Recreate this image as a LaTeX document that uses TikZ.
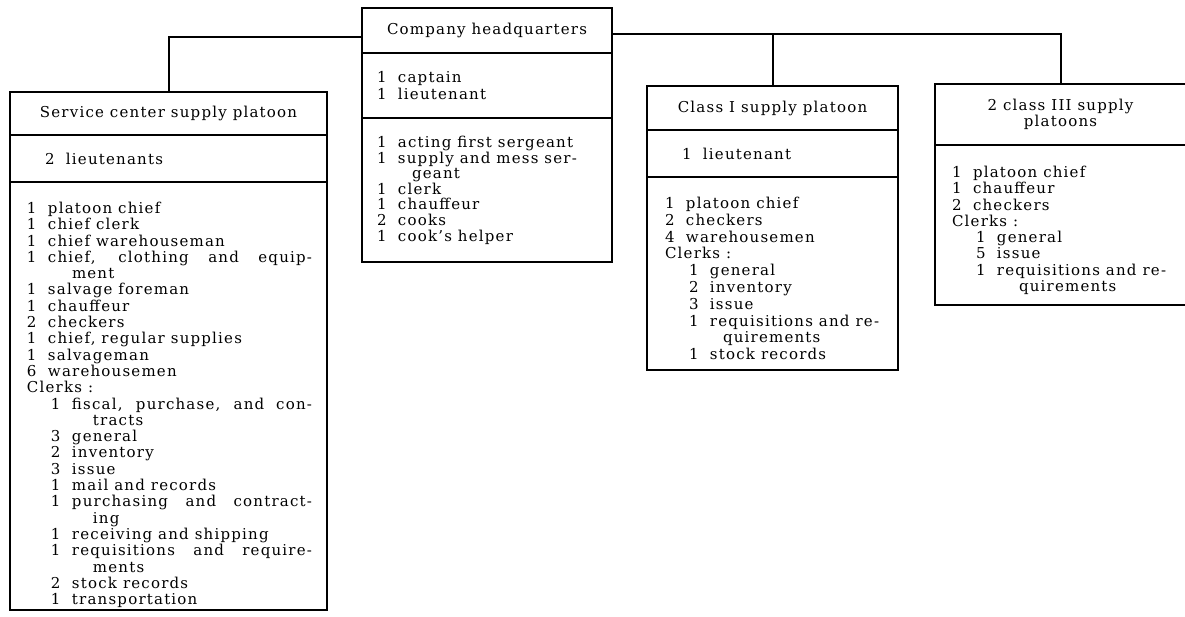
\documentclass[tikz,border=0pt]{standalone}
\usepackage{fontspec}
\setmainfont{DejaVu Serif}[LetterSpace=8]
\usetikzlibrary{positioning}
\tikzset{
	part/.style={draw, line width=2pt, outer sep=0, inner sep=0, anchor=north west},
	txt/.style={inner sep=0, outer sep=0, align=left},
	conn/.style={line width=2pt}
}
\newcommand{\nr}[1]{\makebox[21pt][l]{#1}}
\newcommand{\sbi}{\hspace*{24pt}}
\newcommand{\hng}[1][45pt]{\hspace*{#1}}
\newcommand{\jst}[2]{\makebox[#1][s]{#2}}
\begin{document}
\begin{tikzpicture}[x=1pt, y=-1pt, font=\fontsize{15}{16.3}\selectfont]
	\useasboundingbox (0,0) rectangle (1185,616);
	% service center supply platoon
	\node[part, minimum width=317, minimum height=43] (sc) at (10, 92) {Service center supply platoon};
	\node[part, minimum width=317, minimum height=47, below=0pt of sc] (sc_1) {};
	\node[part, minimum width=317, minimum height=428, below=0pt of sc_1] (sc_2) {};
	\node[txt, right=35pt of sc_1.west] (sc_1t) {\nr{2}lieutenants};
	\node[txt, below right=20pt and 17pt of sc_2.north west] (sc_2t) {
		\nr{1}platoon chief\\
		\nr{1}chief clerk\\
		\nr{1}chief warehouseman\\
		\nr{1}\jst{264pt}{chief, clothing and equip-}\\
		\hng ment\\
		\nr{1}salvage foreman\\
		\nr{1}chauffeur\\
		\nr{2}checkers\\
		\nr{1}chief, regular supplies\\
		\nr{1}salvageman\\
		\nr{6}warehousemen\\
		Clerks :\\
		\sbi\nr{1}\jst{240pt}{fiscal, purchase, and con-}\\
		\sbi\hng[42pt]tracts\\
		\sbi\nr{3}general\\
		\sbi\nr{2}inventory\\
		\sbi\nr{3}issue\\
		\sbi\nr{1}mail and records\\
		\sbi\nr{1}\jst{240pt}{purchasing and contract-}\\
		\sbi\hng[42pt]ing\\
		\sbi\nr{1}receiving and shipping\\
		\sbi\nr{1}\jst{240pt}{requisitions and require-}\\
		\sbi\hng[42pt]ments\\
		\sbi\nr{2}stock records\\
		\sbi\nr{1}transportation};
	% company headquarters
	\node[part, minimum width=250, minimum height=45] (hq) at (362, 8) {Company headquarters};
	\node[part, minimum width=250, minimum height=65, below=0pt of hq] (hq_1) {};
	\node[part, minimum width=250, minimum height=144, below=0pt of hq_1] (hq_2) {};
	\node[txt, right=15pt of hq_1.west] (hq_1t) {\nr{1}captain\\ \nr{1}lieutenant};
	\node[txt, below right=18pt and 15pt of hq_2.north west, font=\fontsize{15}{15.6}\selectfont] (hq_2t) {
		\nr{1}acting first sergeant\\
		\nr{1}supply and mess ser-\\
		\hng[35pt]geant\\
		\nr{1}clerk\\
		\nr{1}chauffeur\\
		\nr{2}cooks\\
		\nr{1}cook's helper};
	% class I
	\node[part, minimum width=251, minimum height=44] (c1) at (647, 86) {Class I supply platoon};
	\node[part, minimum width=251, minimum height=47, below=0pt of c1] (c1_1) {};
	\node[part, minimum width=251, minimum height=193, below=0pt of c1_1] (c1_2) {};
	\node[txt, right=35pt of c1_1.west] (c1_1t) {\nr{1}lieutenant};
	\node[txt, below right=20pt and 18pt of c1_2.north west, font=\fontsize{15}{16.8}\selectfont] (c1_2t) {
		\nr{1}platoon chief\\
		\nr{2}checkers\\
		\nr{4}warehousemen\\
		Clerks :\\
		\sbi\nr{1}general\\
		\sbi\nr{2}inventory\\
		\sbi\nr{3}issue\\
		\sbi\nr{1}requisitions and re-\\
		\sbi\hng[34pt]quirements\\
		\sbi\nr{1}stock records};
	% class III
	\node[part, minimum width=251, minimum height=61, align=center] (c3) at (935, 84) {2 class III supply\\platoons};
	\node[part, minimum width=251, minimum height=160, below=0pt of c3] (c3_1) {};
	\node[txt, below right=21pt and 17pt of c3_1.north west] (c3_1t) {
		\nr{1}platoon chief\\
		\nr{1}chauffeur\\
		\nr{2}checkers\\
		Clerks :\\
		\sbi\nr{1}general\\
		\sbi\nr{5}issue\\
		\sbi\nr{1}requisitions and re-\\
		\sbi\hng[43pt]quirements};
	% connectors
	\coordinate (bus) at ([yshift=-3pt]hq.east);
	\draw[conn] (sc.north) |- ([yshift=-6pt]hq.west);
	\draw[conn] (bus) -| (c3.north);
	\draw[conn] (c1.north) -- (c1.north |- bus);
\end{tikzpicture}
\end{document}
